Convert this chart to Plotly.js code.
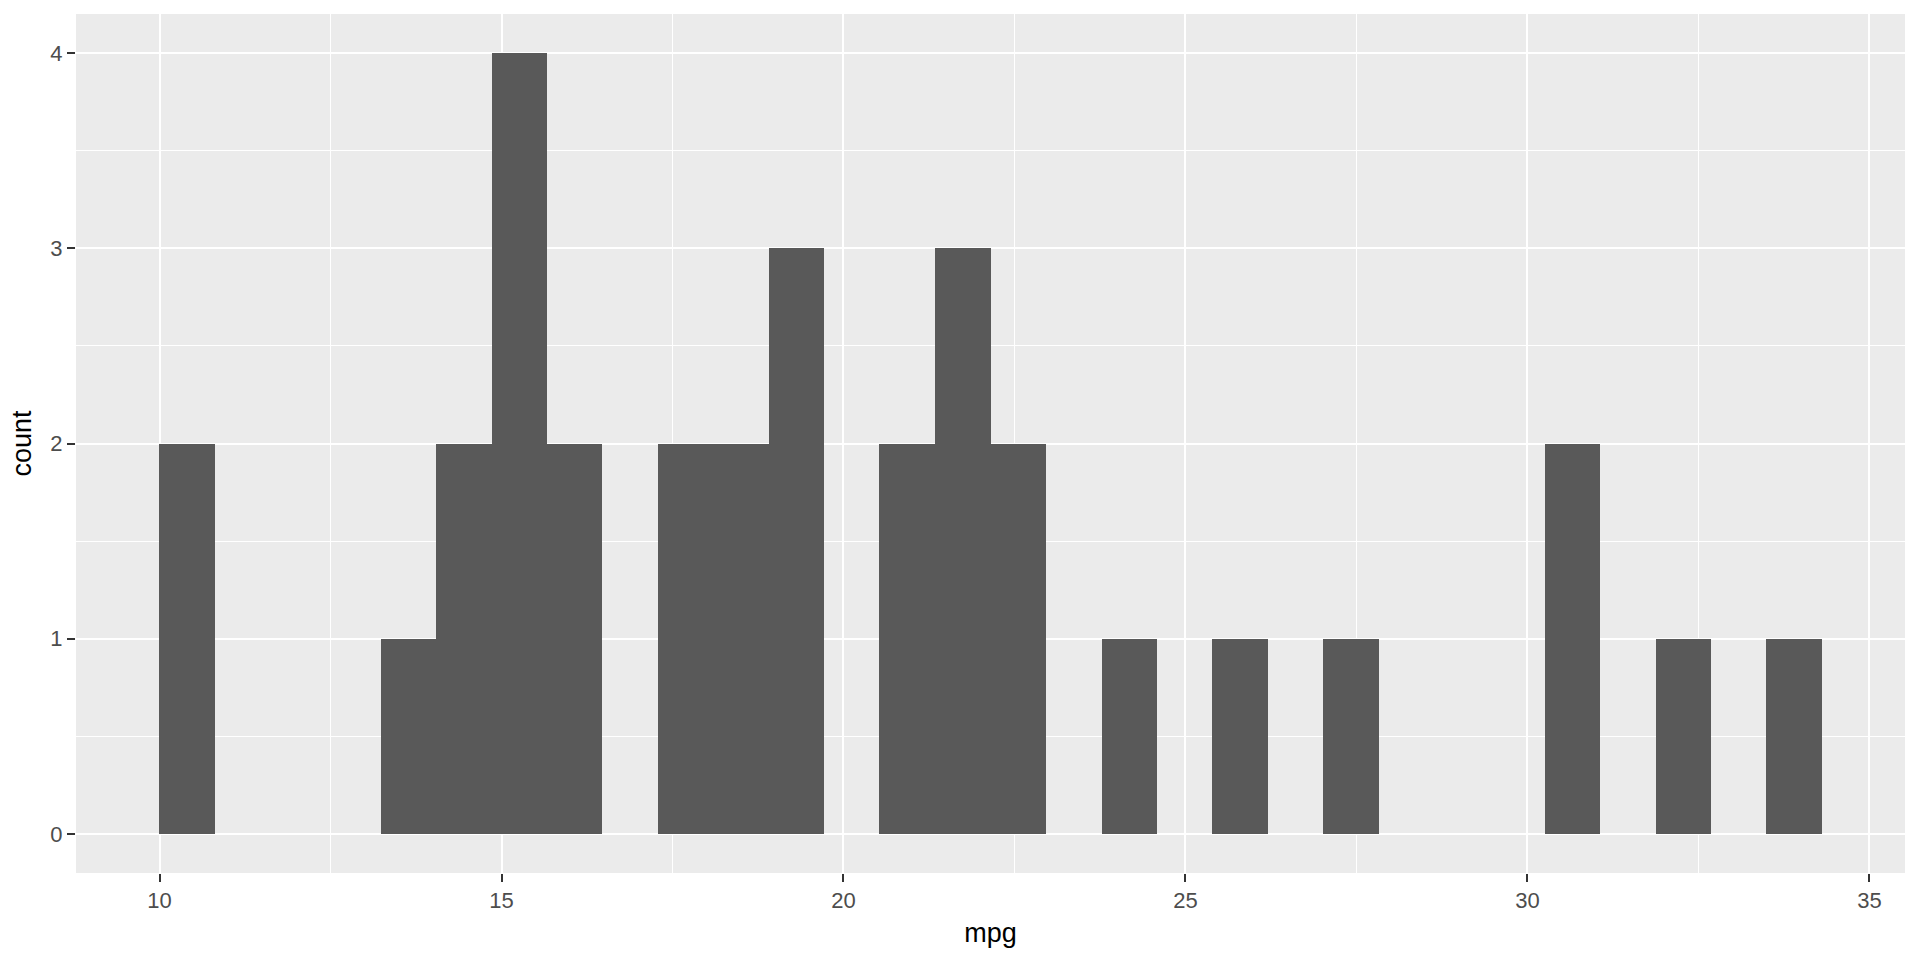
<!DOCTYPE html>
<html>
<head>
<meta charset="utf-8">
<script src="https://cdn.plot.ly/plotly-3.0.1.min.js"></script>
<style>
  html, body { margin: 0; padding: 0; background: #fff; }
  #chart { width: 1920px; height: 960px; }
</style>
</head>
<body>
<div id="chart"></div>
<script>
// mpg histogram, 30 bins (bin centres)
var binCentres = [10.40, 11.21, 12.02, 12.83, 13.64, 14.45, 15.26, 16.07, 16.88, 17.69,
                  18.50, 19.31, 20.12, 20.93, 21.75, 22.56, 23.37, 24.18, 24.99, 25.80,
                  26.61, 27.42, 28.23, 29.04, 29.85, 30.66, 31.47, 32.28, 33.09, 33.90];
var counts = [2, 0, 0, 0, 1, 2, 4, 2, 0, 2,
              2, 3, 0, 2, 3, 2, 0, 1, 0, 1,
              0, 1, 0, 0, 0, 2, 0, 1, 0, 1];
var binWidth = 0.8103;
var xTicks = [10, 15, 20, 25, 30, 35];
var yTicks = [0, 1, 2, 3, 4];

var trace = {
    type: 'bar',
    x: binCentres,
    y: counts,
    width: binWidth,
    marker: {color: '#595959', line: {width: 0}},
    hoverinfo: 'x+y'
};

var tickFont = {family: 'Liberation Sans, Arial, sans-serif', size: 22, color: '#4D4D4D'};
var titleFont = {family: 'Liberation Sans, Arial, sans-serif', size: 27, color: '#000000'};

var layout = {
    width: 1920,
    height: 960,
    margin: {l: 76, r: 15, t: 14, b: 87},
    paper_bgcolor: '#FFFFFF',
    plot_bgcolor: '#EBEBEB',
    showlegend: false,
    bargap: 0,
    xaxis: {
        range: [8.779, 35.52],
        tickvals: xTicks,
        ticktext: xTicks.map(String),
        ticks: 'outside', ticklen: 8, tickwidth: 2, tickcolor: '#333333',
        tickfont: tickFont,
        showgrid: true, gridcolor: '#FFFFFF', gridwidth: 2,
        minor: {dtick: 2.5, tick0: 7.5, showgrid: true, gridcolor: '#FFFFFF', gridwidth: 1, ticks: ''},
        zeroline: false, showline: false,
        title: {text: 'mpg', font: titleFont, standoff: 10}
    },
    yaxis: {
        range: [-0.2, 4.2],
        tickvals: yTicks,
        ticktext: yTicks.map(String),
        ticks: 'outside', ticklen: 8, tickwidth: 2, tickcolor: '#333333',
        tickfont: tickFont,
        showgrid: true, gridcolor: '#FFFFFF', gridwidth: 2,
        minor: {dtick: 0.5, tick0: 0, showgrid: true, gridcolor: '#FFFFFF', gridwidth: 1, ticks: ''},
        zeroline: false, showline: false,
        title: {text: 'count', font: titleFont, standoff: 10}
    }
};

Plotly.newPlot('chart', [trace], layout, {staticPlot: true, displayModeBar: false});
</script>
</body>
</html>
